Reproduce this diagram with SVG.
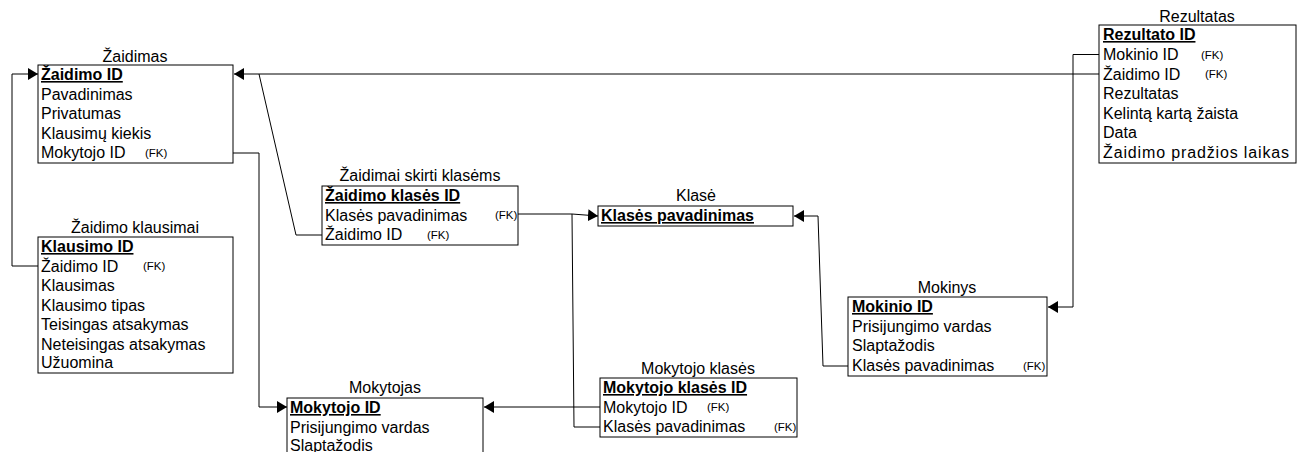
<svg xmlns="http://www.w3.org/2000/svg" width="1304" height="452" viewBox="0 0 1304 452">
<style>
text{font-family:"Liberation Sans",Arial,sans-serif;font-size:16px;fill:#000}
.t{text-anchor:middle}
.pk{font-weight:bold;text-decoration:underline}
.fk{font-size:11.5px}
rect.box{fill:none;stroke:#000;stroke-width:1}
.c{fill:none;stroke:#000;stroke-width:1}
</style>
<defs>
<marker id="ar" viewBox="0 0 10 12" refX="10" refY="6" markerWidth="10" markerHeight="12" markerUnits="userSpaceOnUse" orient="auto">
<path d="M0,0 L10,6 L0,12 Z" fill="#000"/>
</marker>
</defs>
<rect width="1304" height="452" fill="#fff"/>
<g id="connectors">
<polyline class="c" points="1099,74 234,74" marker-end="url(#ar)"/>
<polyline class="c" points="1099,54.5 1073,54.5 1073,307 1048,307" marker-end="url(#ar)"/>
<polyline class="c" points="38,266 12,266 12,74 38,74" marker-end="url(#ar)"/>
<polyline class="c" points="233,153 259,153 259,407 287,407" marker-end="url(#ar)"/>
<polyline class="c" points="322,235 296,235 259,74"/>
<polyline class="c" points="518,214 572,214 598,216" marker-end="url(#ar)"/>
<polyline class="c" points="600,427 574,427 572,214"/>
<polyline class="c" points="600,407 484,407" marker-end="url(#ar)"/>
<polyline class="c" points="848,366 823,366 818,216 794,216" marker-end="url(#ar)"/>
</g>
<g id="zaidimas">
<text class="t" x="135" y="62">Žaidimas</text>
<rect class="box" x="38" y="65" width="195" height="98"/>
<text class="pk" x="41" y="80">Žaidimo ID</text>
<text x="41" y="99.5">Pavadinimas</text>
<text x="41" y="119">Privatumas</text>
<text x="41" y="138.5">Klausimų kiekis</text>
<text x="41" y="158">Mokytojo ID</text>
<text class="fk" x="145" y="157">(FK)</text>
</g>
<g id="zaidimo-klausimai">
<text class="t" x="135" y="233">Žaidimo klausimai</text>
<rect class="box" x="38" y="237" width="195" height="136"/>
<text class="pk" x="41" y="252">Klausimo ID</text>
<text x="41" y="271.5">Žaidimo ID</text>
<text class="fk" x="143" y="270">(FK)</text>
<text x="41" y="291">Klausimas</text>
<text x="41" y="310.5">Klausimo tipas</text>
<text x="41" y="330">Teisingas atsakymas</text>
<text x="41" y="349.5">Neteisingas atsakymas</text>
<text x="41" y="368">Užuomina</text>
</g>
<g id="zaidimai-skirti-klasems">
<text class="t" x="420" y="181">Žaidimai skirti klasėms</text>
<rect class="box" x="322" y="186" width="196" height="59"/>
<text class="pk" x="325" y="201">Žaidimo klasės ID</text>
<text x="325" y="220.5">Klasės pavadinimas</text>
<text class="fk" x="495" y="219">(FK)</text>
<text x="325" y="240">Žaidimo ID</text>
<text class="fk" x="427" y="239">(FK)</text>
</g>
<g id="klase">
<text class="t" x="696" y="201">Klasė</text>
<rect class="box" x="598" y="206" width="195" height="20"/>
<text class="pk" x="601" y="221">Klasės pavadinimas</text>
</g>
<g id="rezultatas">
<text class="t" x="1197" y="22">Rezultatas</text>
<rect class="box" x="1099" y="25" width="197" height="138"/>
<text class="pk" x="1103" y="40">Rezultato ID</text>
<text x="1103" y="60">Mokinio ID</text>
<text class="fk" x="1201" y="59">(FK)</text>
<text x="1103" y="79.5">Žaidimo ID</text>
<text class="fk" x="1205" y="78">(FK)</text>
<text x="1103" y="99">Rezultatas</text>
<text x="1103" y="118.5">Kelintą kartą žaista</text>
<text x="1103" y="138">Data</text>
<text x="1103" y="158" textLength="186" lengthAdjust="spacing">Žaidimo pradžios laikas</text>
</g>
<g id="mokinys">
<text class="t" x="947" y="293">Mokinys</text>
<rect class="box" x="848" y="297" width="199" height="79"/>
<text class="pk" x="852" y="312">Mokinio ID</text>
<text x="852" y="331.5">Prisijungimo vardas</text>
<text x="852" y="351">Slaptažodis</text>
<text x="852" y="371">Klasės pavadinimas</text>
<text class="fk" x="1023" y="370">(FK)</text>
</g>
<g id="mokytojo-klases">
<text class="t" x="698" y="374">Mokytojo klasės</text>
<rect class="box" x="600" y="378" width="197" height="59"/>
<text class="pk" x="603" y="393">Mokytojo klasės ID</text>
<text x="603" y="412.5">Mokytojo ID</text>
<text class="fk" x="707" y="411">(FK)</text>
<text x="603" y="432">Klasės pavadinimas</text>
<text class="fk" x="774" y="431">(FK)</text>
</g>
<g id="mokytojas">
<text class="t" x="385" y="393">Mokytojas</text>
<rect class="box" x="287" y="398" width="196" height="80"/>
<text class="pk" x="290" y="413">Mokytojo ID</text>
<text x="290" y="432.5">Prisijungimo vardas</text>
<text x="290" y="451">Slaptažodis</text>
</g>
</svg>
